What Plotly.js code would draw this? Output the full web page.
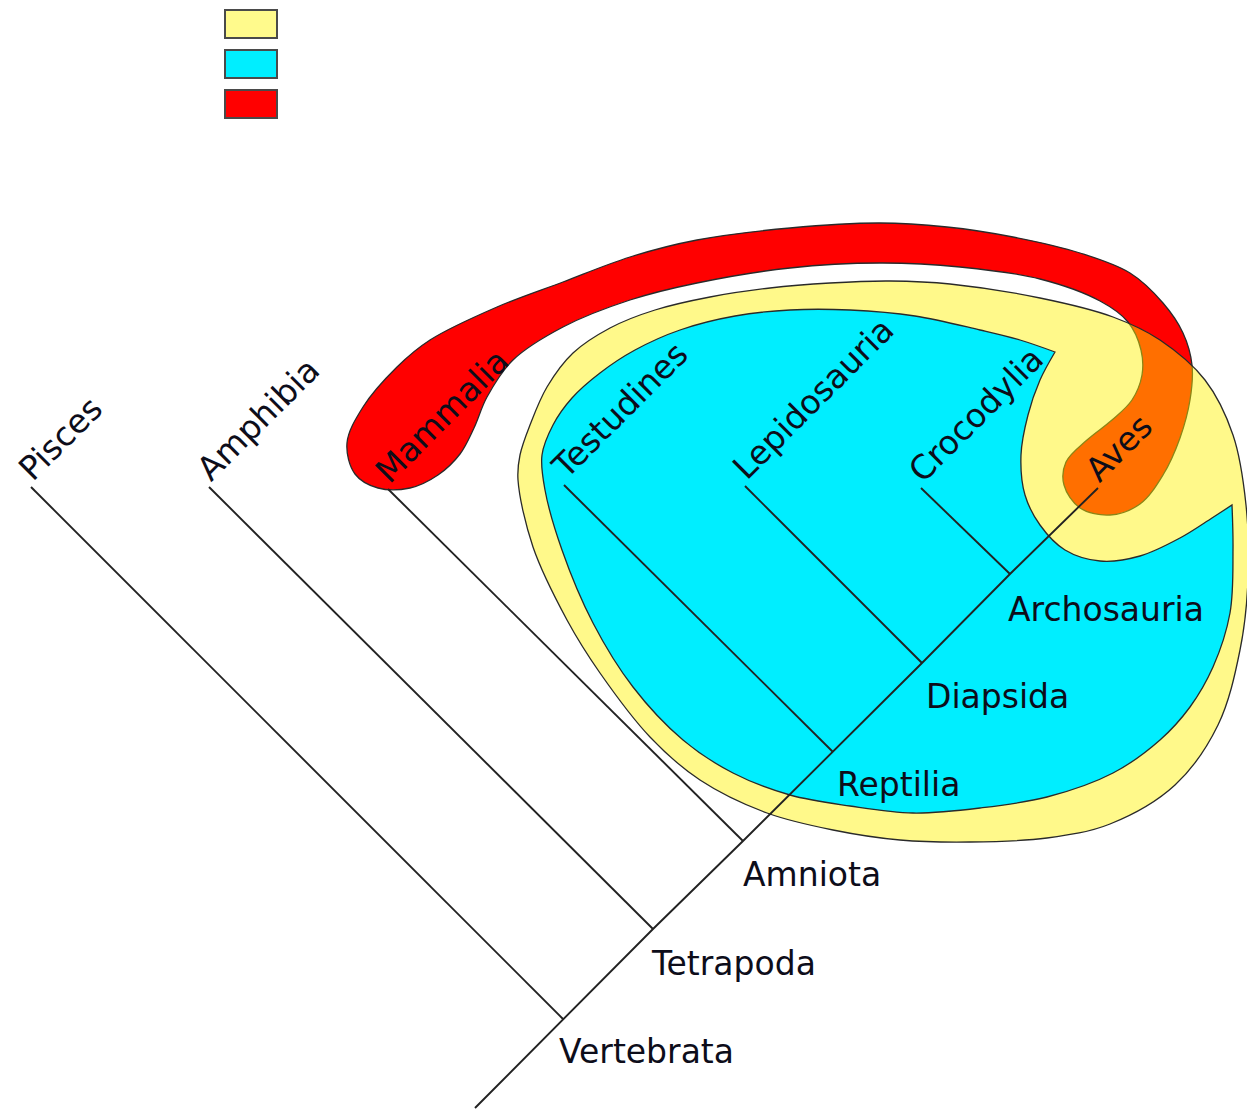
<!DOCTYPE html>
<html>
<head>
<meta charset="utf-8">
<script src="https://cdn.plot.ly/plotly-3.0.1.min.js"></script>
<style>html,body{margin:0;padding:0;background:#fff;}#chart{width:1247px;height:1111px;}</style>
</head>
<body>
<div id="chart"></div>
<script>
// ---- Data (pixel space) ----
const taxa = ['Pisces', 'Amphibia', 'Mammalia', 'Testudines', 'Lepidosauria', 'Crocodylia', 'Aves'];
const tipX = [31, 209, 388, 564, 745, 921, 1098];
const tipY = [487, 487, 489, 485, 486, 488, 488];

const clades = ['Vertebrata', 'Tetrapoda', 'Amniota', 'Reptilia', 'Diapsida', 'Archosauria'];
const nodeX = [563, 653, 743, 833, 922, 1010];
const nodeY = [1019, 929, 841, 752, 663, 574];
const cladeLabelX = [558, 650, 742, 836, 925, 1007];
const cladeLabelY = [1062, 974, 885, 795, 707, 620];

const rootX = [475];
const rootY = [1108];

// Mammalia band running over into the Aves bulb
const bandX = [347, 363, 397, 430, 497, 563, 630, 697, 790, 880, 947, 1013, 1080, 1130, 1163, 1183, 1192, 1190, 1180, 1163, 1140, 1110, 1080, 1064, 1066, 1087, 1112, 1132, 1142, 1141, 1128, 1100, 1040, 960, 880, 790, 697, 630, 563, 513, 487, 474, 460, 438, 410, 378, 355];
const bandY = [443, 407, 367, 340, 307, 282, 257, 240, 228, 223, 227, 237, 253, 273, 303, 333, 365, 400, 438, 475, 504, 515, 508, 485, 462, 440, 420, 400, 375, 350, 322, 301, 279, 267, 263, 268, 283, 300, 327, 360, 397, 428, 454, 475, 488, 488, 474];

// Outer (yellow) group
const outerX = [518, 533, 567, 600, 650, 700, 767, 833, 900, 970, 1047, 1110, 1175, 1218, 1240, 1248, 1246, 1233, 1205, 1160, 1113, 1040, 950, 890, 830, 770, 710, 655, 610, 573, 547, 530, 520];
const outerY = [480, 547, 620, 673, 737, 780, 813, 830, 840, 842, 838, 824, 785, 725, 650, 580, 505, 435, 380, 340, 317, 298, 284, 281, 283, 288, 297, 310, 328, 353, 387, 425, 455];

// Inner (cyan) group
const innerX = [1055, 1040, 1028, 1021, 1025, 1040, 1065, 1100, 1140, 1180, 1212, 1232, 1233, 1230, 1213, 1190, 1160, 1113, 1047, 980, 913, 850, 790, 733, 683, 633, 593, 562, 545, 542, 553, 572, 600, 635, 680, 735, 790, 850, 915, 980, 1020];
const innerY = [352, 380, 415, 455, 495, 525, 550, 561, 556, 538, 518, 505, 550, 613, 667, 707, 740, 773, 797, 808, 813, 806, 795, 773, 740, 687, 623, 550, 490, 455, 425, 398, 373, 350, 330, 316, 310, 310, 316, 330, 340];
const innerCorners = [0, 11];

// Legend swatches (no labels in the reference)
const legendColors = ['#FFFA8C', '#00EEFF', '#FF0000'];
const legendTop = [10, 50, 90];

// ---- Helpers: centripetal Catmull-Rom closed path ----
function smoothClosedPath(xs, ys, corners) {
  const n = xs.length;
  const cs = new Set(corners || []);
  const P = i => [xs[((i % n) + n) % n], ys[((i % n) + n) % n]];
  const dist = (a, b) => Math.pow(Math.hypot(b[0] - a[0], b[1] - a[1]), 0.5) || 1e-6;
  let d = 'M' + xs[0] + ',' + ys[0];
  for (let i = 0; i < n; i++) {
    const p0 = P(i - 1), p1 = P(i), p2 = P(i + 1), p3 = P(i + 2);
    const t01 = dist(p0, p1), t12 = dist(p1, p2), t23 = dist(p2, p3);
    const m1 = [0, 1].map(k => (p2[k] - p1[k]) + t12 * ((p1[k] - p0[k]) / t01 - (p2[k] - p0[k]) / (t01 + t12)));
    const m2 = [0, 1].map(k => (p2[k] - p1[k]) + t12 * ((p3[k] - p2[k]) / t23 - (p3[k] - p1[k]) / (t12 + t23)));
    const c1 = cs.has(i % n) ? p1 : [p1[0] + m1[0] / 3, p1[1] + m1[1] / 3];
    const c2 = cs.has((i + 1) % n) ? p2 : [p2[0] - m2[0] / 3, p2[1] - m2[1] / 3];
    d += ' C' + c1[0].toFixed(1) + ',' + c1[1].toFixed(1) + ' ' + c2[0].toFixed(1) + ',' + c2[1].toFixed(1) + ' ' + p2[0] + ',' + p2[1];
  }
  return d + ' Z';
}

const outline = { color: '#2a2a2a', width: 1.3 };
const shapes = [
  { type: 'path', xref: 'x', yref: 'y', layer: 'below', path: smoothClosedPath(bandX, bandY), fillcolor: '#FF0000', line: outline },
  { type: 'path', xref: 'x', yref: 'y', layer: 'below', path: smoothClosedPath(outerX, outerY), fillcolor: 'rgba(255,243,0,0.46)', line: outline },
  { type: 'path', xref: 'x', yref: 'y', layer: 'below', path: smoothClosedPath(innerX, innerY, innerCorners), fillcolor: '#00EEFF', line: outline }
];
legendColors.forEach((c, i) => {
  shapes.push({ type: 'rect', xref: 'x', yref: 'y', layer: 'above', x0: 225, x1: 277, y0: legendTop[i], y1: legendTop[i] + 28, fillcolor: c, line: { color: '#4a4a4a', width: 2 } });
});

// ---- Tree lines ----
const lineStyle = { color: '#222222', width: 1.9 };
const traces = [];
traces.push({
  type: 'scatter', mode: 'lines', hoverinfo: 'skip',
  x: rootX.concat(nodeX, [tipX[6]]),
  y: rootY.concat(nodeY, [tipY[6]]),
  line: lineStyle
});
for (let i = 0; i < nodeX.length; i++) {
  traces.push({ type: 'scatter', mode: 'lines', hoverinfo: 'skip', x: [nodeX[i], tipX[i]], y: [nodeY[i], tipY[i]], line: lineStyle });
}

// ---- Labels ----
const FS = 33;
const font = { family: 'DejaVu Sans, sans-serif', size: FS, color: '#0d0d1a' };
const annotations = [];
taxa.forEach((t, i) => {
  annotations.push({
    x: tipX[i] - 23, y: tipY[i] + 4, xref: 'x', yref: 'y',
    text: t, showarrow: false, textangle: -45,
    xanchor: 'left', yanchor: 'bottom', font: font
  });
});
clades.forEach((t, i) => {
  annotations.push({
    x: cladeLabelX[i] - 1, y: cladeLabelY[i] - 11, xref: 'x', yref: 'y',
    text: t, showarrow: false,
    xanchor: 'left', yanchor: 'middle', font: font
  });
});

const layout = {
  width: 1247, height: 1111,
  margin: { l: 0, r: 0, t: 0, b: 0, pad: 0 },
  paper_bgcolor: '#ffffff', plot_bgcolor: '#ffffff',
  showlegend: false,
  xaxis: { range: [0, 1247], visible: false, fixedrange: true },
  yaxis: { range: [1111, 0], visible: false, fixedrange: true },
  shapes: shapes,
  annotations: annotations
};

Plotly.newPlot('chart', traces, layout, { staticPlot: true, displayModeBar: false });
</script>
</body>
</html>
